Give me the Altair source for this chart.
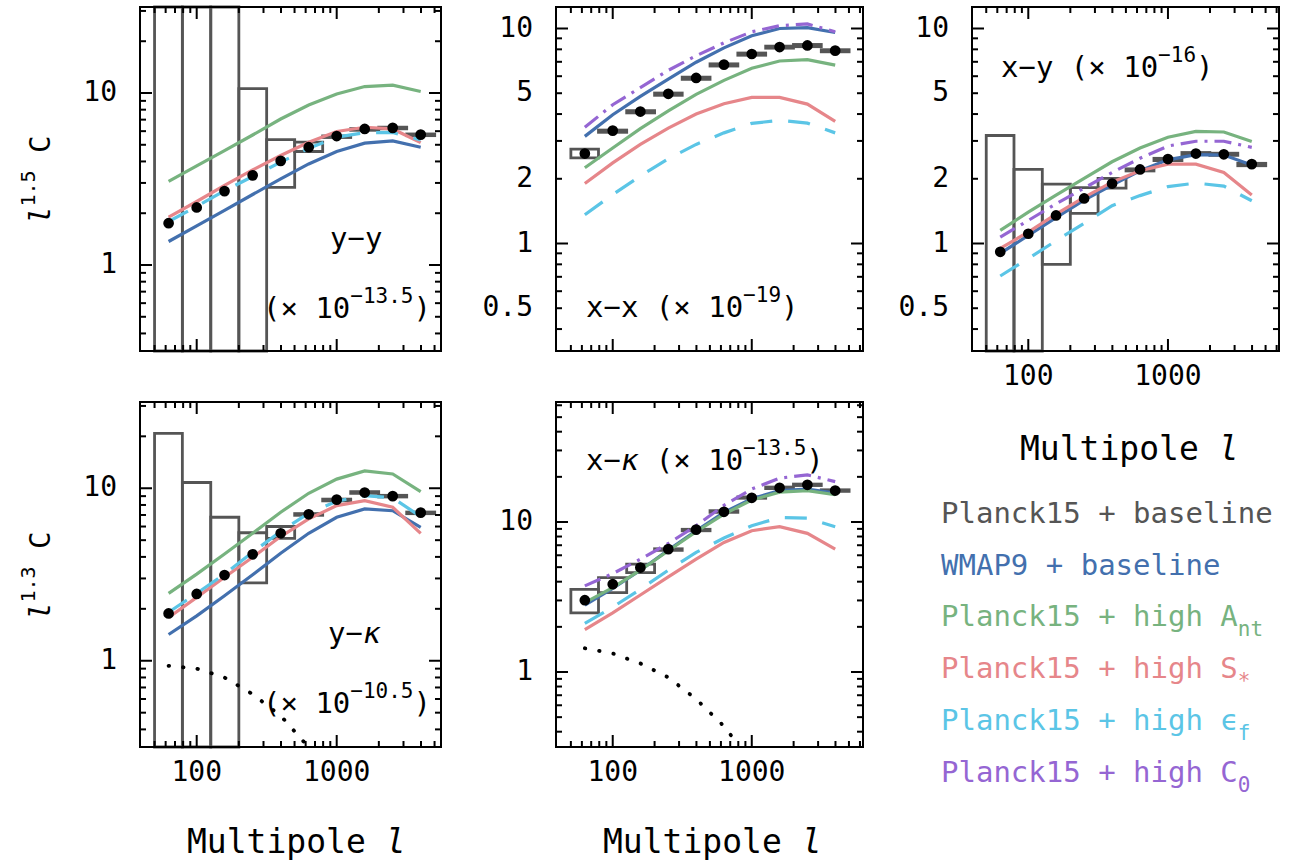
import altair as alt
import pandas as pd

FONT = "DejaVu Sans Mono"
ADV = 0.602          # monospace advance, in em
RAISE = 15           # superscript shift, px
LOWER = 10           # subscript shift, px

GRAY = "#555555"
BLUE = "#4370AE"
GREEN = "#77B37F"
RED = "#E6868A"
CYAN = "#5BC5E6"
PURPLE = "#9566D3"

# multipole bins: centres and edges
ELL = [63, 100, 158, 251, 398, 631, 1000, 1585, 2512, 3981]
ELL_LO = [50, 79, 126, 200, 316, 501, 794, 1259, 1995, 3162]
ELL_HI = [79, 126, 200, 316, 501, 794, 1259, 1995, 3162, 5012]

# ---- y-y ----
YY_DATA = [1.75, 2.16, 2.69, 3.32, 4.03, 4.84, 5.62, 6.18, 6.27, 5.73]
YY_LO = [0.01, 0.01, 0.01, 0.01, 2.83, 4.57, 5.51, 6.07, 6.19, 5.65]
YY_HI = [1000, 1000, 1000, 10.6, 5.35, 5.18, 5.63, 6.21, 6.33, 5.78]
YY_WMAP9 = [1.37, 1.69, 2.08, 2.57, 3.17, 3.87, 4.57, 5.11, 5.27, 4.84]
YY_ANT = [3.06, 3.77, 4.62, 5.70, 7.06, 8.52, 9.87, 10.9, 11.1, 10.2]
YY_S = [1.90, 2.34, 2.90, 3.57, 4.33, 5.17, 5.97, 6.32, 6.18, 5.15]
YY_EPS = [1.79, 2.19, 2.70, 3.27, 3.96, 4.77, 5.53, 5.89, 5.89, 5.33]

# ---- x-x ----
XX_DATA = [2.62, 3.35, 4.11, 4.97, 5.89, 6.79, 7.61, 8.20, 8.34, 7.89]
XX_LO = [2.50, 3.29, 4.05, 4.89, 5.80, 6.69, 7.51, 8.10, 8.23, 7.79]
XX_HI = [2.75, 3.37, 4.15, 5.01, 5.94, 6.85, 7.69, 8.28, 8.43, 7.97]
XX_WMAP9 = [3.15, 3.97, 4.83, 5.82, 6.97, 8.13, 9.25, 10.0, 10.1, 9.58]
XX_ANT = [2.25, 2.78, 3.42, 4.14, 4.94, 5.74, 6.53, 7.06, 7.17, 6.76]
XX_S = [1.90, 2.37, 2.89, 3.44, 4.00, 4.47, 4.78, 4.78, 4.45, 3.70]
XX_EPS = [1.36, 1.69, 2.06, 2.48, 2.89, 3.27, 3.62, 3.74, 3.63, 3.27]
XX_C0 = [3.47, 4.42, 5.31, 6.39, 7.47, 8.58, 9.65, 10.3, 10.5, 9.65]

# ---- x-y ----
XY_DATA = [0.915, 1.11, 1.35, 1.62, 1.90, 2.21, 2.47, 2.62, 2.60, 2.34]
XY_LO = [0.01, 0.01, 0.80, 1.38, 1.81, 2.175, 2.43, 2.59, 2.57, 2.30]
XY_HI = [3.18, 2.21, 1.89, 1.82, 2.01, 2.225, 2.49, 2.65, 2.63, 2.36]
XY_WMAP9 = [0.90, 1.09, 1.32, 1.59, 1.87, 2.18, 2.45, 2.59, 2.58, 2.32]
XY_ANT = [1.15, 1.40, 1.68, 2.01, 2.40, 2.78, 3.12, 3.32, 3.30, 2.98]
XY_S = [0.95, 1.13, 1.37, 1.64, 1.93, 2.18, 2.34, 2.34, 2.14, 1.68]
XY_EPS = [0.706, 0.851, 1.03, 1.24, 1.50, 1.67, 1.84, 1.91, 1.85, 1.58]
XY_C0 = [1.07, 1.28, 1.53, 1.81, 2.14, 2.49, 2.84, 2.99, 2.99, 2.80]

# ---- y-kappa ----
YK_DATA = [1.88, 2.44, 3.14, 4.14, 5.48, 7.06, 8.59, 9.44, 9.00, 7.22]
YK_LO = [0.01, 0.01, 0.01, 2.83, 5.12, 6.97, 8.45, 9.34, 8.90, 7.12]
YK_HI = [20.8, 10.8, 6.79, 5.52, 6.0, 7.13, 8.65, 9.56, 9.10, 7.28]
YK_WMAP9 = [1.42, 1.82, 2.38, 3.15, 4.20, 5.48, 6.79, 7.59, 7.41, 5.94]
YK_ANT = [2.46, 3.18, 4.16, 5.48, 7.26, 9.35, 11.3, 12.6, 12.1, 9.56]
YK_S = [1.78, 2.33, 3.05, 3.98, 5.25, 6.64, 7.93, 8.47, 7.76, 5.48]
YK_EPS = [1.91, 2.46, 3.18, 4.26, 5.62, 7.16, 8.41, 9.07, 8.79, 6.85]
YK_DOT_ELL = [63, 100, 158, 251, 398, 600]
YK_DOT = [0.935, 0.90, 0.80, 0.64, 0.48, 0.33]

# ---- x-kappa ----
XK_DATA = [3.01, 3.85, 4.97, 6.59, 8.89, 11.7, 14.5, 16.9, 17.7, 16.2]
XK_LO = [2.48, 3.38, 4.60, 6.47, 8.74, 11.6, 14.4, 16.7, 17.5, 16.0]
XK_HI = [3.56, 4.26, 5.24, 6.63, 8.94, 11.9, 14.7, 17.1, 17.9, 16.4]
XK_WMAP9 = [2.79, 3.61, 4.77, 6.49, 8.75, 11.6, 14.3, 16.2, 16.6, 15.6]
XK_ANT = [2.90, 3.65, 4.77, 6.43, 8.61, 11.3, 14.0, 15.8, 16.2, 15.2]
XK_S = [1.92, 2.48, 3.26, 4.31, 5.65, 7.31, 8.75, 9.31, 8.40, 6.59]
XK_EPS = [2.11, 2.71, 3.56, 4.77, 6.27, 7.82, 9.45, 10.7, 10.6, 9.31]
XK_C0 = [3.75, 4.53, 5.65, 7.19, 9.45, 12.9, 16.6, 19.6, 20.6, 18.6]
XK_DOT_ELL = [63, 100, 158, 251, 398, 631, 794]
XK_DOT = [1.44, 1.33, 1.14, 0.92, 0.66, 0.435, 0.33]

# model curves: key, colour, dash pattern
MODELS = [
    ("wmap9", BLUE, None),
    ("ant", GREEN, None),
    ("s", RED, None),
    ("eps", CYAN, [22, 16]),
    ("c0", PURPLE, [17, 7, 3, 7]),
]

LEGEND = [
    ("Planck15 + baseline", "", GRAY),
    ("WMAP9 + baseline", "", BLUE),
    ("Planck15 + high A", "nt", GREEN),
    ("Planck15 + high S", "*", RED),
    ("Planck15 + high \u03f5", "f", CYAN),
    ("Planck15 + high C", "0", PURPLE),
]

X_MAJOR = [100, 1000]
X_MINOR = [50, 60, 70, 80, 90, 200, 300, 400, 500, 600, 700, 800, 900,
           2000, 3000, 4000, 5000, 6000]
Y_MAJOR = [0.1, 1, 10, 100]
Y_MINOR = [k * m for m in (0.1, 1, 10) for k in range(2, 10)]

ONE = pd.DataFrame({"_": [0]})


def txt(text, x, y, size, color="black", italic=False, angle=0,
        align="left", baseline="alphabetic"):
    kw = dict(font=FONT, fontSize=size, color=color, align=align,
              baseline=baseline, text=text)
    if italic:
        kw["fontStyle"] = "italic"
    if angle:
        kw["angle"] = angle
    return alt.Chart(ONE).mark_text(**kw).encode(x=alt.value(x), y=alt.value(y))


def run(x, y, segs, color="black", rotated=False):
    """Lay out text pieces one after another in a monospace font."""
    out = []
    pos = 0.0
    for text, size, style in segs:
        adv = ADV * size
        lead = len(text) - len(text.lstrip(" "))
        pos += adv * lead
        body = text.strip(" ")
        shift = {"sup": -RAISE, "sub": LOWER}.get(style, 0)
        if body:
            if rotated:
                out.append(txt(body, x + shift, y - pos, size, color,
                               style == "i", angle=270))
            else:
                out.append(txt(body, x + pos, y + shift, size, color, style == "i"))
        pos += adv * (len(text) - lead)
    return out


def panel(p):
    x0, x1 = 10 ** p["xlog"][0], 10 ** p["xlog"][1]
    y0, y1 = 10 ** p["ylog"][0], 10 ** p["ylog"][1]
    xs = alt.Scale(type="log", domain=[x0, x1], range=[p["left"], p["right"]],
                   nice=False, clamp=True)
    ys = alt.Scale(type="log", domain=[y0, y1], range=[p["bottom"], p["top"]],
                   nice=False, clamp=True)

    def X(f):
        return alt.X(f"{f}:Q", scale=xs, axis=None)

    def Y(f):
        return alt.Y(f"{f}:Q", scale=ys, axis=None)

    layers = []
    # measurement error boxes
    box = pd.DataFrame({"lo": ELL_LO, "hi": ELL_HI, "ylo": p["lo"], "yhi": p["hi"]})
    layers.append(
        alt.Chart(box).mark_rect(fillOpacity=0, stroke=GRAY, strokeWidth=2.8)
        .encode(x=X("lo"), x2=alt.X2("hi"), y=Y("ylo"), y2=alt.Y2("yhi"))
    )
    # model curves
    for key, color, dash in MODELS:
        if key in p["models"]:
            df = pd.DataFrame({"ell": ELL, "v": p["models"][key]})
            kw = dict(color=color, strokeWidth=3.2)
            if dash:
                kw["strokeDash"] = dash
            layers.append(alt.Chart(df).mark_line(**kw).encode(x=X("ell"), y=Y("v")))
    # dotted curve
    if "dot" in p:
        df = pd.DataFrame({"ell": p["dot"][0], "v": p["dot"][1]})
        layers.append(
            alt.Chart(df).mark_line(color="black", strokeWidth=3.8,
                                    strokeDash=[0.5, 14], strokeCap="round")
            .encode(x=X("ell"), y=Y("v"))
        )
    # measured points
    pts = pd.DataFrame({"ell": ELL, "v": p["data"]})
    layers.append(alt.Chart(pts).mark_circle(size=115, color="black", opacity=1)
                  .encode(x=X("ell"), y=Y("v")))

    L, T, R, B = p["left"], p["top"], p["right"], p["bottom"]
    # frame
    layers.append(
        alt.Chart(ONE).mark_rect(fillOpacity=0, stroke="black", strokeWidth=2)
        .encode(x=alt.value(L), x2=alt.value(R), y=alt.value(T), y2=alt.value(B))
    )
    # inward ticks on all four sides
    for vals, size in ((X_MAJOR, 12), (X_MINOR, 6)):
        df = pd.DataFrame({"v": [v for v in vals if x0 < v < x1]})
        for ya, yb in ((B, B - size), (T, T + size)):
            layers.append(alt.Chart(df).mark_rule(color="black", strokeWidth=2)
                          .encode(x=X("v"), y=alt.value(ya), y2=alt.value(yb)))
    for vals, size in ((Y_MAJOR, 12), (Y_MINOR, 6)):
        df = pd.DataFrame({"v": [v for v in vals if y0 < v < y1]})
        for xa, xb in ((L, L + size), (R, R - size)):
            layers.append(alt.Chart(df).mark_rule(color="black", strokeWidth=2)
                          .encode(y=Y("v"), x=alt.value(xa), x2=alt.value(xb)))
    # tick labels
    ylab = pd.DataFrame({"v": p["ylabels"], "t": [f"{v:g}" for v in p["ylabels"]]})
    layers.append(
        alt.Chart(ylab).mark_text(font=FONT, fontSize=28, align="right",
                                  baseline="middle", color="black")
        .encode(y=Y("v"), x=alt.value(L - 23), text="t:N")
    )
    if p.get("xlabels"):
        xlab = pd.DataFrame({"v": X_MAJOR, "t": [str(v) for v in X_MAJOR]})
        layers.append(
            alt.Chart(xlab).mark_text(font=FONT, fontSize=28, align="center",
                                      baseline="middle", color="black")
            .encode(x=X("v"), y=alt.value(B + 26), text="t:N")
        )
    # panel annotations
    for (ax, ay, segs) in p["notes"]:
        layers.extend(run(ax, ay, segs))
    return alt.layer(*layers)


def sup_note(main, sup):
    return [(main, 29, "n"), (sup, 21, "sup"), (")", 29, "n")]


PANELS = [
    dict(left=140, right=441, top=7, bottom=351, xlog=(1.595, 3.745), ylog=(-0.5, 1.5),
         data=YY_DATA, lo=YY_LO, hi=YY_HI,
         models=dict(wmap9=YY_WMAP9, ant=YY_ANT, s=YY_S, eps=YY_EPS),
         ylabels=[1, 10],
         notes=[(330, 248, [("y\u2212y", 29, "n")]),
                (263, 318, sup_note("(\u00d7 10", "\u221213.5"))]),
    dict(left=556, right=863, top=7, bottom=351, xlog=(1.592, 3.80), ylog=(-0.5, 1.1),
         data=XX_DATA, lo=XX_LO, hi=XX_HI,
         models=dict(wmap9=XX_WMAP9, ant=XX_ANT, s=XX_S, eps=XX_EPS, c0=XX_C0),
         ylabels=[0.5, 1, 2, 5, 10],
         notes=[(586, 317, sup_note("x\u2212x (\u00d7 10", "\u221219"))]),
    dict(left=972, right=1279, top=7, bottom=351, xlog=(1.597, 3.795), ylog=(-0.5, 1.1),
         data=XY_DATA, lo=XY_LO, hi=XY_HI,
         models=dict(wmap9=XY_WMAP9, ant=XY_ANT, s=XY_S, eps=XY_EPS, c0=XY_C0),
         ylabels=[0.5, 1, 2, 5, 10], xlabels=True,
         notes=[(1001, 77, sup_note("x\u2212y (\u00d7 10", "\u221216"))]),
    dict(left=140, right=441, top=402, bottom=747, xlog=(1.595, 3.745), ylog=(-0.5, 1.5),
         data=YK_DATA, lo=YK_LO, hi=YK_HI,
         models=dict(wmap9=YK_WMAP9, ant=YK_ANT, s=YK_S, eps=YK_EPS),
         dot=(YK_DOT_ELL, YK_DOT),
         ylabels=[1, 10], xlabels=True,
         notes=[(328, 643, [("y\u2212", 29, "n"), ("\u03ba", 29, "i")]),
                (263, 713, sup_note("(\u00d7 10", "\u221210.5"))]),
    dict(left=556, right=863, top=402, bottom=747, xlog=(1.592, 3.80), ylog=(-0.5, 1.8),
         data=XK_DATA, lo=XK_LO, hi=XK_HI,
         models=dict(wmap9=XK_WMAP9, ant=XK_ANT, s=XK_S, eps=XK_EPS, c0=XK_C0),
         dot=(XK_DOT_ELL, XK_DOT),
         ylabels=[1, 10], xlabels=True,
         notes=[(586, 470, [("x\u2212", 29, "n"), ("\u03ba", 29, "i"),
                            (" (\u00d7 10", 29, "n"), ("\u221213.5", 21, "sup"),
                            (")", 29, "n")])]),
]

layers = [panel(p) for p in PANELS]

# axis titles
for x, y in ((187, 853), (603, 853), (1020, 460)):
    layers.extend(run(x, y, [("Multipole ", 33, "n"), ("l", 33, "i")]))
layers.extend(run(50, 224, [("l", 29, "i"), ("1.5", 20, "sup"), (" C", 29, "n")], rotated=True))
layers.extend(run(50, 620, [("l", 29, "i"), ("1.3", 20, "sup"), (" C", 29, "n")], rotated=True))

# colour key
for i, (label, sub, color) in enumerate(LEGEND):
    segs = [(label, 29, "n")]
    if sub:
        segs.append((sub, 21, "sub"))
    layers.extend(run(941, 522.7 + 51.8 * i, segs, color=color))

chart = (
    alt.layer(*layers)
    .resolve_scale(x="independent", y="independent")
    .properties(width=1290, height=864, padding=0,
                autosize=alt.AutoSizeParams(type="none"), background="white")
    .configure_view(strokeWidth=0)
)

chart.save("out.html", embed_options={"renderer": "svg", "actions": False})
